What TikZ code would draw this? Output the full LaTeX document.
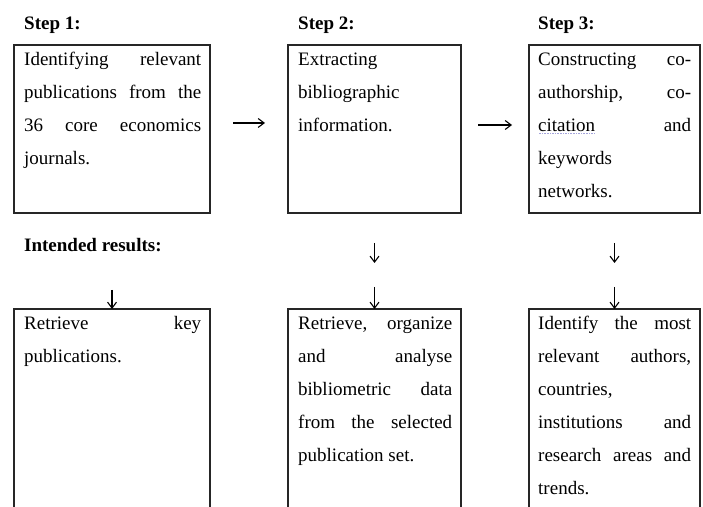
\documentclass[tikz,border=0pt]{standalone}
\usepackage{fontspec}
\setmainfont{Liberation Serif}
\usetikzlibrary{arrows.meta}
\definecolor{ulc}{RGB}{165,165,220}
\hbadness=10000
\hyphenpenalty=10000
\newcommand\firststrut{\rule{0pt}{14pt}}
\newcommand\dotuline[1]{\setbox0\hbox{#1}\rlap{\color{ulc}\raisebox{-3pt}{\hbox to \wd0{\xleaders\hbox to 1.6pt{\hss\rule{0.8pt}{0.8pt}\hss}\hfill}}}\box0\relax}
\tikzset{
 boxa/.style={draw=black!85, line width=1.3pt, outer sep=0pt, inner sep=0pt, anchor=north west},
 txt/.style={anchor=north west, inner sep=0pt, align=justify, font=\fontsize{19}{33}\selectfont, text=black},
 head/.style={anchor=base west, inner sep=0pt, font=\fontsize{19}{23}\selectfont\bfseries, text=black},
 arr/.style={line width=1.1pt, draw=black, -{Straight Barb[length=6pt,width=9pt,line width=1.1pt]}},
}
\begin{document}
\begin{tikzpicture}[x=1pt,y=1pt]
\useasboundingbox (0,0) rectangle (703,506);
% top boxes
\node[boxa, minimum width=196pt, minimum height=168pt] (s1) at (14,461) {};
\node[boxa, minimum width=173pt, minimum height=168pt] (s2) at (288,461) {};
\node[boxa, minimum width=171pt, minimum height=168pt] (s3) at (529,461) {};
% bottom boxes (cut at lower edge)
\begin{scope}
\clip (0,0) rectangle (703,506);
\node[boxa, minimum width=196pt, minimum height=210pt] (r1) at (14,197) {};
\node[boxa, minimum width=173pt, minimum height=210pt] (r2) at (288,197) {};
\node[boxa, minimum width=171pt, minimum height=210pt] (r3) at (529,197) {};
\end{scope}
% headings
\node[head] (h1) at (24,476) {Step 1:};
\node[head] (h2) at (298,476) {Step 2:};
\node[head] (h3) at (538,476) {Step 3:};
\node[head] (ir) at (24,254) {Intended results:};
% texts
\node[txt, text width=177pt] (t1) at ([shift={(10,-6)}]s1.north west)
 {\firststrut Identifying relevant\linebreak publications from the\linebreak 36 core economics\linebreak journals.};
\node[txt, text width=154pt] (t2) at ([shift={(10,-6)}]s2.north west)
 {\firststrut Extracting\linebreak bibliographic\linebreak information.};
\node[txt, text width=153pt] (t3) at ([shift={(9,-6)}]s3.north west)
 {\firststrut Constructing co-\linebreak authorship, co-\linebreak \dotuline{citation} and\linebreak keywords\linebreak networks.};
\node[txt, text width=177pt] (u1) at ([shift={(10,-6)}]r1.north west)
 {\firststrut Retrieve key\linebreak publications.};
\node[txt, text width=154pt] (u2) at ([shift={(10,-6)}]r2.north west)
 {\firststrut Retrieve, organize\linebreak and analyse\linebreak bibliometric data\linebreak from the selected\linebreak publication set.};
\node[txt, text width=153pt] (u3) at ([shift={(9,-6)}]r3.north west)
 {\firststrut Identify the most\linebreak relevant authors,\linebreak countries,\linebreak institutions and\linebreak research areas and\linebreak trends.};
% arrows
\coordinate (h1a) at (233,383); \coordinate (h1b) at (265,383);
\coordinate (h2a) at (478,381); \coordinate (h2b) at (512,381);
\draw[arr] (h1a) -- (h1b);
\draw[arr] (h2a) -- (h2b);
\coordinate (d1) at (112,216);
\draw[arr] (d1) -- (r1.north);
\coordinate (d2a) at (374.5,263); \coordinate (d2b) at (374.5,243);
\coordinate (d2c) at (374.5,219);
\draw[arr] (d2a) -- (d2b);
\draw[arr] (d2c) -- (r2.north);
\coordinate (d3a) at (614.5,263); \coordinate (d3b) at (614.5,243);
\coordinate (d3c) at (614.5,219);
\draw[arr] (d3a) -- (d3b);
\draw[arr] (d3c) -- (r3.north);
\end{tikzpicture}
\end{document}
